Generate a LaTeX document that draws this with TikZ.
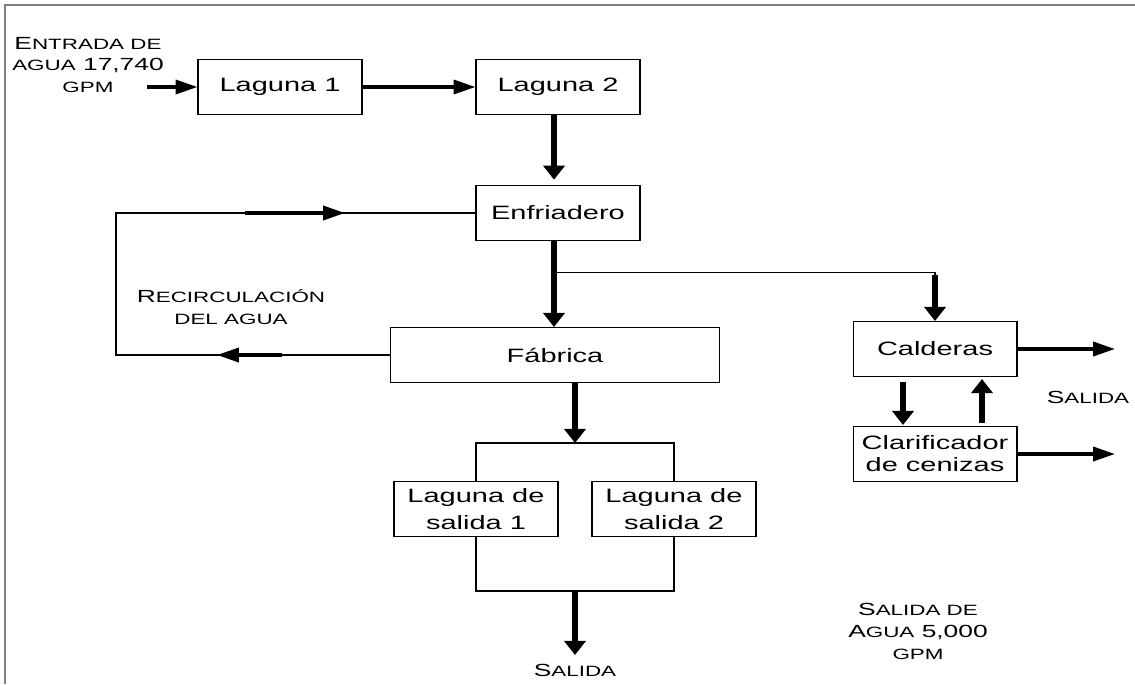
\documentclass[tikz,border=0pt]{standalone}
\usepackage{fontspec}
\setmainfont{Liberation Sans}[FakeStretch=1.5]
\usetikzlibrary{calc,arrows.meta}

\newcommand\smc[1]{{\fontsize{8.5}{9}\selectfont #1}}

\tikzset{
  box/.style={draw, line width=0.6pt, minimum width=3.28cm, minimum height=1.1cm,
    align=center, inner sep=1pt, font=\fontsize{11}{12.5}\selectfont},
  note/.style={align=center, inner sep=0pt, font=\fontsize{10}{12.5}\selectfont},
  conn/.style={line width=0.6pt},
  hflow/.style={line width=2pt, -{Triangle[length=12.5pt,width=8pt]}},
  vflow/.style={line width=3.4pt, -{Triangle[length=8pt,width=12pt]}},
}

\begin{document}
\begin{tikzpicture}[x=0.02cm, y=-0.02cm]
  \useasboundingbox (0,0) rectangle (1135,684);
  \draw[gray, line width=1.2pt] (5,684) |- (1135,5);

  \node[box] (lag1) at (280,87)  {Laguna 1};
  \node[box] (lag2) at (558,87)  {Laguna 2};
  \node[box] (enf)  at (558,213) {Enfriadero};
  \node[box, minimum width=6.58cm] (fab) at (555,355) {Fábrica};
  \node[box] (cal)  at (935,349) {Calderas};
  \node[box] (cla)  at (935,454) {Clarificador\\de cenizas};
  \node[box, font=\fontsize{11}{15}\selectfont] (ls1) at (476,509) {Laguna de\\salida 1};
  \node[box, font=\fontsize{11}{15}\selectfont] (ls2) at (674,509) {Laguna de\\salida 2};

  \node[note] (ent)  at (88,65)   {E\smc{NTRADA DE}\\\smc{AGUA} 17,740\\\smc{GPM}};
  \node[note] (rec)  at (231,307) {R\smc{ECIRCULACIÓN}\\\smc{DEL AGUA}};
  \node[note] (sal1) at (575,670) {S\smc{ALIDA}};
  \node[note] (sal2) at (1088,397) {S\smc{ALIDA}};
  \node[note] (sal3) at (918,631) {S\smc{ALIDA DE}\\A\smc{GUA} 5,000\\\smc{GPM}};

  \coordinate (src)  at (147,87);
  \coordinate (ax)   at ($(enf.south)+(-4,0)$);
  \coordinate (sp)   at ($(ax)+(0,31)$);
  \coordinate (calin) at ($(cal.north)+(0,-46)$);
  \coordinate (lpx)  at (116,0);
  \coordinate (fs)   at (575,443);
  \coordinate (fj)   at (575,591);
  \coordinate (fout) at (575,655);
  \coordinate (co1)  at (1115,349);
  \coordinate (co2)  at (1115,454);

  \draw[hflow] (src) -- (lag1.west);
  \draw[hflow] (lag1.east) -- (lag2.west);
  \draw[vflow, shorten >=3pt] (lag2.south -| ax) -- (enf.north -| ax);
  \draw[vflow] (ax) -- (fab.north -| ax);

  \draw[conn] (sp) -| (calin);
  \draw[vflow] (calin) -- (cal.north);

  \draw[conn] (fab.west) -- (fab.west -| lpx) |- (enf.west);
  \draw[hflow] ($(fab.west -| lpx)+(166,0)$) -- ($(fab.west -| lpx)+(101,0)$);
  \draw[hflow] ($(enf.west -| lpx)+(129,0)$) -- ($(enf.west -| lpx)+(229,0)$);

  \draw[vflow] (fab.south -| fs) -- (fs);
  \draw[conn] (ls1.north) |- (fs) -| (ls2.north);
  \draw[conn] (ls1.south) |- (fj) -| (ls2.south);
  \draw[vflow] (fj) -- (fout);

  \draw[hflow] (cal.east) -- (co1);
  \draw[hflow] (cla.east) -- (co2);
  \draw[vflow] ($(cal.south)+(-32,5)$) -- ($(cla.north)+(-32,-1)$);
  \draw[vflow] ($(cla.north)+(47,-3)$) -- ($(cal.south)+(47,2)$);
\end{tikzpicture}
\end{document}
